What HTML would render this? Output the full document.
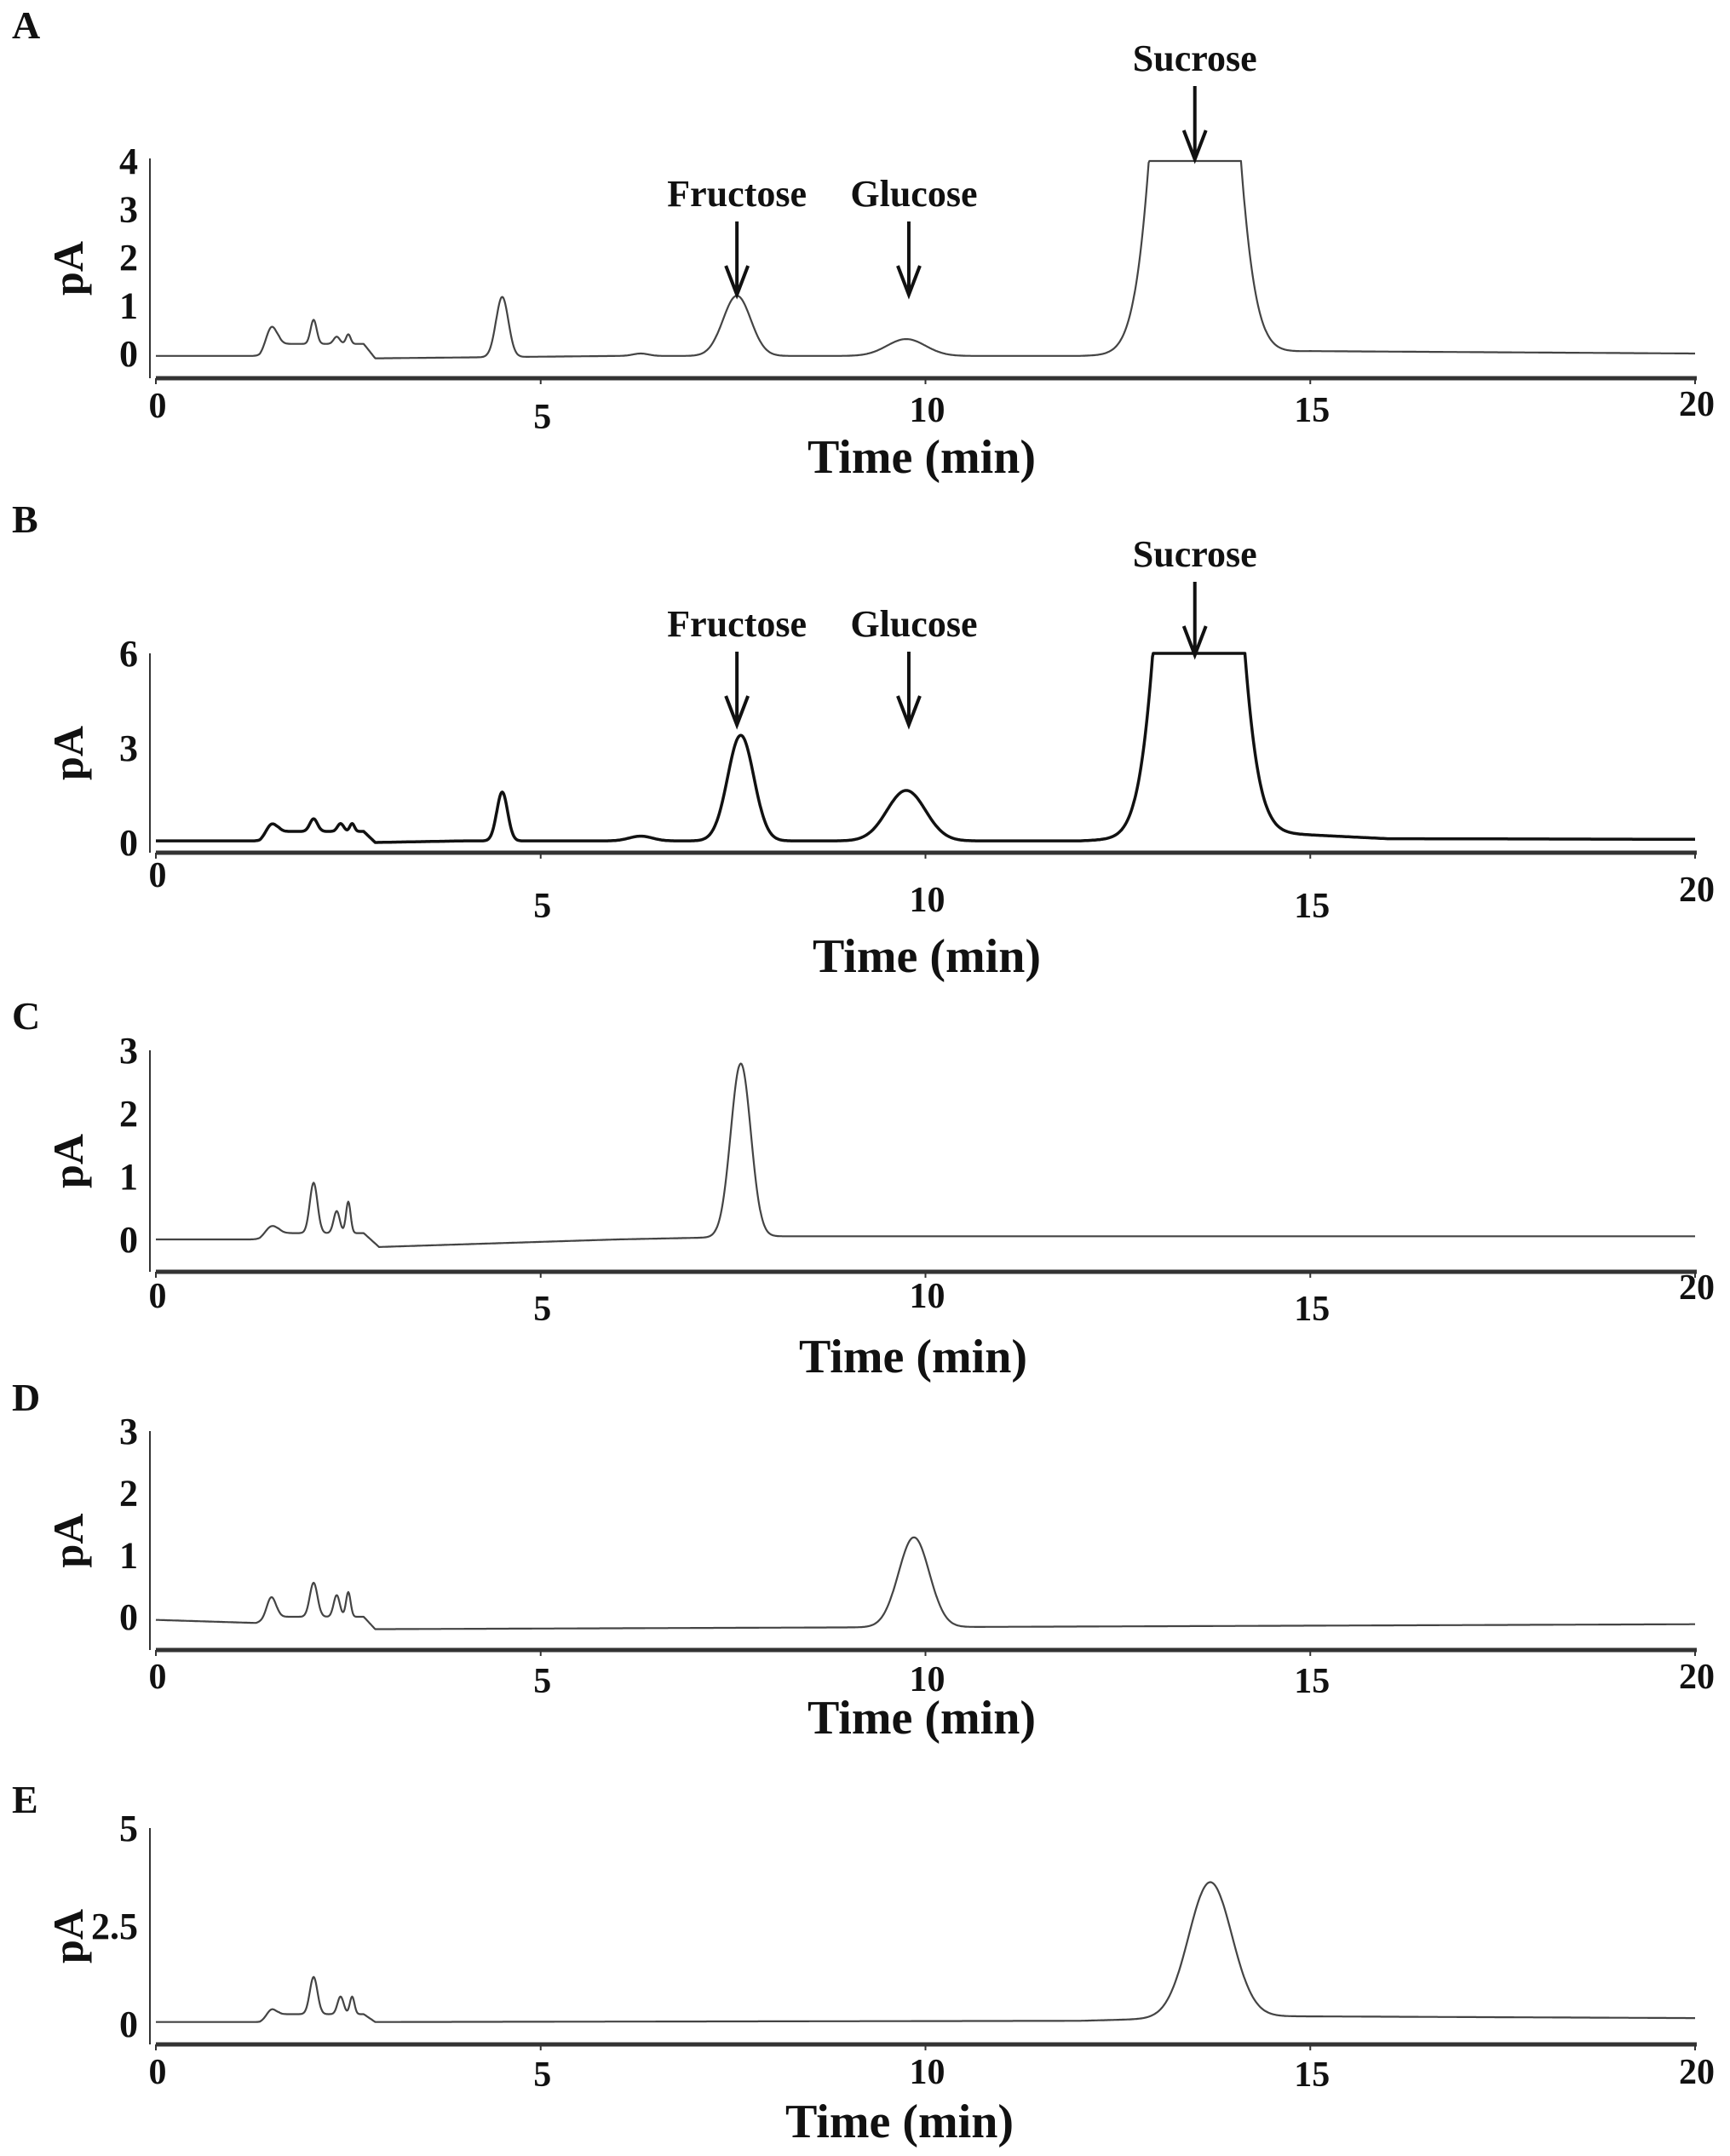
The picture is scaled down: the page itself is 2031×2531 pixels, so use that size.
<!DOCTYPE html>
<html><head><meta charset="utf-8">
<style>
html,body{margin:0;padding:0;background:#fff;}
svg{display:block;}
text{font-family:"Liberation Serif",serif;font-weight:bold;fill:#111;}
</style></head>
<body>
<svg id="fig" width="2031" height="2531" viewBox="0 0 2031 2531" xmlns="http://www.w3.org/2000/svg"></svg>
<script>
// ---- data ----
const xTicks = [0, 5, 10, 15, 20];
const panelLetters = ["A", "B", "C", "D", "E"];
const yTicksA = [0, 1, 2, 3, 4];
const yTicksB = [0, 3, 6];
const yTicksC = [0, 1, 2, 3];
const yTicksD = [0, 1, 2, 3];
const yTicksE = [0, 2.5, 5];
// baselines: [time, value]
const baseA = [[0,-0.05],[1.35,-0.05],[1.6,0.2],[2.7,0.2],[2.85,-0.1],[6,-0.05],[12,-0.05],[15,0.05],[20,0]];
const baseB = [[0,0.05],[1.35,0.05],[1.6,0.35],[2.7,0.35],[2.85,0.0],[4,0.05],[12,0.05],[14.5,0.3],[16,0.12],[20,0.1]];
const baseC = [[0,0],[1.35,0],[1.6,0.1],[2.7,0.1],[2.9,-0.12],[6,0],[8,0.05],[20,0.05]];
const baseD = [[0,-0.05],[1.3,-0.1],[1.6,0.0],[2.7,0.0],[2.85,-0.2],[20,-0.12]];
const baseE = [[0,0.05],[1.35,0.05],[1.6,0.25],[2.7,0.25],[2.85,0.05],[12,0.08],[14.3,0.2],[20,0.15]];
// peaks: [retention time, height, width]
const peaksA = [[1.5,0.45,0.07],[2.05,0.5,0.04],[2.35,0.15,0.04],[2.5,0.2,0.03],[4.5,1.25,0.08],[6.3,0.05,0.1],[7.55,1.25,0.18],[9.75,0.35,0.25],[13.5,20,0.334]];
const peaksB = [[1.5,0.35,0.07],[2.05,0.4,0.05],[2.4,0.25,0.04],[2.55,0.25,0.03],[4.5,1.55,0.07],[6.3,0.15,0.15],[7.6,3.35,0.17],[9.75,1.6,0.25],[13.55,30,0.33]];
const peaksC = [[1.5,0.15,0.08],[2.05,0.8,0.05],[2.35,0.35,0.04],[2.5,0.5,0.03],[7.6,2.75,0.13]];
const peaksD = [[1.5,0.35,0.06],[2.05,0.55,0.05],[2.35,0.35,0.04],[2.5,0.4,0.03],[9.85,1.45,0.2]];
const peaksE = [[1.5,0.2,0.06],[2.05,0.95,0.05],[2.4,0.45,0.04],[2.55,0.45,0.03],[13.7,3.45,0.28]];
const clipMax = [4, 6, 99, 99, 99];
const annotNames = ["Fructose", "Glucose", "Sucrose"];
const annotTimes = [7.55, 9.85, 13.5];

// ---- layout ----
const NS = "http://www.w3.org/2000/svg";
const svg = document.getElementById("fig");
const X0 = 183, X1 = 1990;
const panels = [
  {y0:415, ppu:56.5, top:186, axis:444, tick:yTicksA, base:baseA, peaks:peaksA, lblY:[475,488,480,480,473], xl:537, xlx:1082, letterY:45, sw:2.2, col:"#444", annot:[228,228,69]},
  {y0:989, ppu:37, top:767, axis:1001, tick:yTicksB, base:baseB, peaks:peaksB, lblY:[1026,1062,1055,1062,1043], xl:1123, xlx:1088, letterY:625, sw:3.5, col:"#111", annot:[733,733,651]},
  {y0:1455, ppu:74, top:1233, axis:1493, tick:yTicksC, base:baseC, peaks:peaksC, lblY:[1520,1535,1520,1535,1510], xl:1593, xlx:1072, letterY:1208, sw:2.2, col:"#444"},
  {y0:1898, ppu:72.7, top:1680, axis:1937, tick:yTicksD, base:baseD, peaks:peaksD, lblY:[1967,1972,1970,1972,1967], xl:2017, xlx:1082, letterY:1656, sw:2.2, col:"#444"},
  {y0:2376, ppu:46, top:2146, axis:2400, tick:yTicksE, base:baseE, peaks:peaksE, lblY:[2431,2434,2431,2434,2431], xl:2491, xlx:1056, letterY:2128, sw:2.2, col:"#444"}
];
function xs(t){ return X0 + (X1 - X0) * t / 20; }
function el(tag, attrs, parent){ const e = document.createElementNS(NS, tag); for (const k in attrs) e.setAttribute(k, attrs[k]); (parent||svg).appendChild(e); return e; }
function baseAt(b, t){ for (let i=0;i<b.length-1;i++){ if (t>=b[i][0] && t<=b[i+1][0]){ const f=(t-b[i][0])/(b[i+1][0]-b[i][0]); return b[i][1]+f*(b[i+1][1]-b[i][1]); } } return b[b.length-1][1]; }
function signal(p, t, cm){ let v = baseAt(p.base, t); for (const pk of p.peaks){ v += pk[1]*Math.exp(-((t-pk[0])**2)/(2*pk[2]*pk[2])); } return Math.min(v, cm); }

panels.forEach((p, i) => {
  const g = el("g", {});
  
  
  const ys = v => p.y0 - v * p.ppu;
  const L = el("text", {x:14, y:p.letterY, "font-size":46}, g);
  L.textContent = panelLetters[i];
  
  
  const ya = el("line", {x1:176, x2:176, y1:p.top, y2:p.axis, stroke:"#333", "stroke-width":2}, g);
  
  
  p.tick.forEach(v => {
    const t = el("text", {x:162, y:ys(v)+15, "font-size":44, "text-anchor":"end"}, g);
    t.textContent = String(v);
    
    
  });
  const yl = el("text", {x:0, y:0, "font-size":50, "text-anchor":"middle", transform:"translate(97," + ((p.top+p.axis)/2) + ") rotate(-90)"}, g);
  yl.textContent = "pA";
  
  
  const xa = el("line", {x1:X0, x2:X1+2, y1:p.axis, y2:p.axis, stroke:"#333", "stroke-width":5}, g);
  
  
  xTicks.forEach((v, k) => {
    const tm = el("line", {x1:xs(v), x2:xs(v), y1:p.axis, y2:p.axis+7, stroke:"#333", "stroke-width":2}, g);
    
    
    const t = el("text", {x:xs(v)+2, y:p.lblY[k]+15, "font-size":42, "text-anchor":"middle"}, g);
    t.textContent = String(v);
    
    
  });
  const xl = el("text", {x:p.xlx, y:p.xl+18, "font-size":56, "text-anchor":"middle"}, g);
  xl.textContent = "Time (min)";
  
  
  let d = "";
  for (let t = 0; t <= 20.0001; t += 0.01) {
    d += (d ? "L" : "M") + xs(t).toFixed(1) + "," + ys(signal(p, t, clipMax[i])).toFixed(1);
  }
  const path = el("path", {d:d, fill:"none", stroke:p.col, "stroke-width":p.sw, "stroke-linejoin":"round"}, g);
  
  
  if (p.annot) {
    annotNames.forEach((nm, k) => {
      const tx = xs(annotTimes[k]);
      const ty = p.annot[k];
      const t = el("text", {x:tx, y:ty+14, "font-size":44, "text-anchor":"middle"}, g);
      t.textContent = nm;
      
      
      const ax = tx + (k === 1 ? -6 : 0);
      const tip = ty + 118;
      const a = el("path", {d:"M" + ax + "," + (ty+32) + "L" + ax + "," + tip + "M" + (ax-13) + "," + (tip-34) + "L" + ax + "," + tip + "L" + (ax+13) + "," + (tip-34), fill:"none", stroke:"#111", "stroke-width":4}, g);
      
      
    });
  }
});
</script>
</body></html>
